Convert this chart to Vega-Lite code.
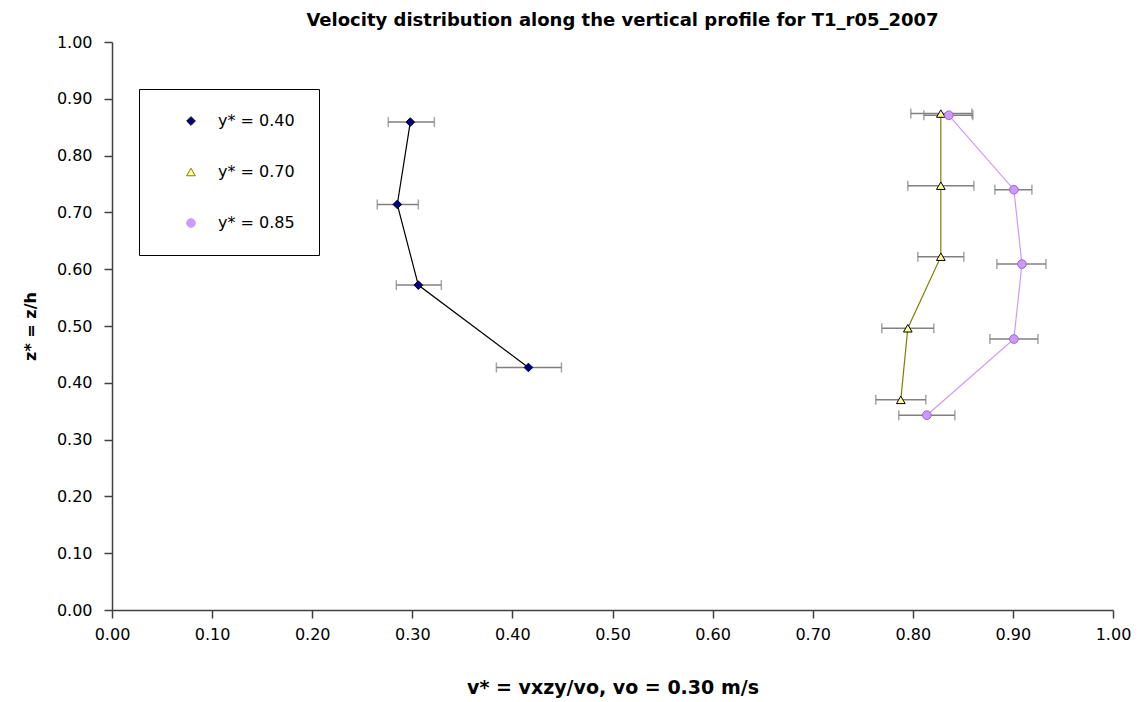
{
  "$schema": "https://vega.github.io/schema/vega-lite/v6.json",
  "width": 1001,
  "height": 568,
  "autosize": {"type": "none"},
  "padding": {"left": 112, "top": 42, "right": 34, "bottom": 92},
  "background": "white",
  "title": {
    "text": "Velocity distribution along the vertical profile for T1_r05_2007",
    "font": "DejaVu Sans",
    "fontSize": 18,
    "fontWeight": "bold",
    "color": "black",
    "anchor": "middle",
    "offset": 4,
    "dx": 10
  },
  "config": {
    "view": {"stroke": null},
    "axis": {
      "grid": false,
      "domainColor": "#404040",
      "domainWidth": 1.5,
      "tickColor": "#404040",
      "tickWidth": 1.5,
      "tickSize": 8,
      "labelFlush": false,
      "labelFont": "DejaVu Sans",
      "labelFontSize": 16,
      "labelColor": "black",
      "titleFont": "DejaVu Sans",
      "titleFontSize": 17,
      "titleFontWeight": "bold",
      "titleColor": "black"
    }
  },
  "data": {
    "values": [
      {"series": "y* = 0.40", "v": 0.298, "z": 0.859, "lo": 0.276, "hi": 0.322},
      {"series": "y* = 0.40", "v": 0.285, "z": 0.714, "lo": 0.265, "hi": 0.306},
      {"series": "y* = 0.40", "v": 0.306, "z": 0.572, "lo": 0.284, "hi": 0.329},
      {"series": "y* = 0.40", "v": 0.416, "z": 0.427, "lo": 0.384, "hi": 0.449},
      {"series": "y* = 0.70", "v": 0.828, "z": 0.874, "lo": 0.798, "hi": 0.859},
      {"series": "y* = 0.70", "v": 0.828, "z": 0.747, "lo": 0.795, "hi": 0.861},
      {"series": "y* = 0.70", "v": 0.828, "z": 0.622, "lo": 0.805, "hi": 0.851},
      {"series": "y* = 0.70", "v": 0.795, "z": 0.496, "lo": 0.769, "hi": 0.821},
      {"series": "y* = 0.70", "v": 0.788, "z": 0.370, "lo": 0.763, "hi": 0.813},
      {"series": "y* = 0.85", "v": 0.836, "z": 0.871, "lo": 0.811, "hi": 0.860},
      {"series": "y* = 0.85", "v": 0.901, "z": 0.740, "lo": 0.882, "hi": 0.919},
      {"series": "y* = 0.85", "v": 0.909, "z": 0.609, "lo": 0.884, "hi": 0.933},
      {"series": "y* = 0.85", "v": 0.901, "z": 0.477, "lo": 0.877, "hi": 0.925},
      {"series": "y* = 0.85", "v": 0.814, "z": 0.343, "lo": 0.786, "hi": 0.842}
    ]
  },
  "layer": [
    {
      "mark": {
        "type": "errorbar",
        "ticks": {"size": 10, "thickness": 1.5, "color": "#808080"},
        "rule": {"color": "#808080", "strokeWidth": 1.5}
      },
      "encoding": {
        "x": {
          "field": "lo", "type": "quantitative",
          "scale": {"domain": [0, 1], "nice": false, "zero": false},
          "axis": {
            "values": [0, 0.1, 0.2, 0.3, 0.4, 0.5, 0.6, 0.7, 0.8, 0.9, 1.0],
            "format": ".2f",
            "labelPadding": 8,
            "title": "v* = vxzy/vo, vo = 0.30 m/s",
            "titleFontSize": 19,
            "titlePadding": 36
          }
        },
        "x2": {"field": "hi"},
        "y": {
          "field": "z", "type": "quantitative",
          "scale": {"domain": [0, 1], "nice": false, "zero": false},
          "axis": {
            "values": [0, 0.1, 0.2, 0.3, 0.4, 0.5, 0.6, 0.7, 0.8, 0.9, 1.0],
            "format": ".2f",
            "labelPadding": 12,
            "title": "z* = z/h",
            "titleFontSize": 16,
            "titlePadding": 18
          }
        }
      }
    },
    {
      "mark": {"type": "line", "strokeWidth": 1.2},
      "encoding": {
        "x": {"field": "v", "type": "quantitative"},
        "y": {"field": "z", "type": "quantitative"},
        "order": {"field": "z", "type": "quantitative"},
        "color": {
          "field": "series", "type": "nominal",
          "scale": {"domain": ["y* = 0.40", "y* = 0.70", "y* = 0.85"], "range": ["#000000", "#808000", "#CC99FF"]},
          "legend": {
            "title": null,
            "orient": "none",
            "legendX": 27,
            "legendY": 47,
            "padding": 24,
            "strokeColor": "black",
            "fillColor": "white",
            "symbolSize": 75,
            "symbolStrokeWidth": 1,
            "symbolOpacity": 1,
            "symbolOffset": 20,
            "rowPadding": 35,
            "labelOffset": 19,
            "labelFont": "DejaVu Sans",
            "labelFontSize": 16,
            "labelColor": "black"
          }
        }
      }
    },
    {
      "mark": {"type": "point", "filled": true, "size": 75, "strokeWidth": 1, "opacity": 1},
      "encoding": {
        "x": {"field": "v", "type": "quantitative"},
        "y": {"field": "z", "type": "quantitative"},
        "fill": {
          "field": "series", "type": "nominal",
          "scale": {"domain": ["y* = 0.40", "y* = 0.70", "y* = 0.85"], "range": ["#000080", "#FFFF99", "#CC99FF"]}
        },
        "stroke": {
          "field": "series", "type": "nominal",
          "scale": {"domain": ["y* = 0.40", "y* = 0.70", "y* = 0.85"], "range": ["#000033", "#000000", "#9966CC"]}
        },
        "shape": {
          "field": "series", "type": "nominal",
          "scale": {"domain": ["y* = 0.40", "y* = 0.70", "y* = 0.85"], "range": ["diamond", "triangle-up", "circle"]}
        }
      }
    }
  ]
}
